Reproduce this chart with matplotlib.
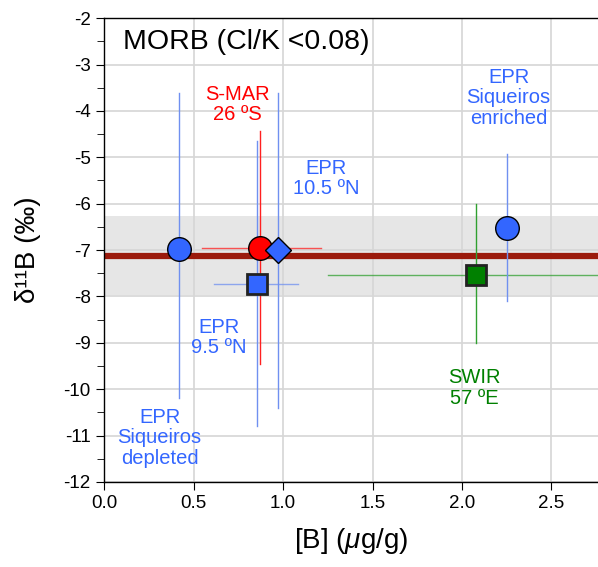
import matplotlib
matplotlib.use("Agg")
import matplotlib.pyplot as plt
from matplotlib.ticker import MultipleLocator

plt.rcParams['font.family'] = ['Liberation Sans', 'DejaVu Sans']
plt.rcParams['mathtext.fontset'] = 'custom'
plt.rcParams['mathtext.rm'] = 'Liberation Sans'
plt.rcParams['mathtext.it'] = 'Liberation Sans:italic'

names = ["EPR Siqueiros depleted", "S-MAR 26S", "EPR 10.5N", "EPR 9.5N", "SWIR 57E", "EPR Siqueiros enriched"]
B = [0.42, 0.87, 0.97, 0.855, 2.08, 2.25]
d11B = [-6.98, -6.95, -7.0, -7.73, -7.53, -6.53]
x_lo = [None, 0.55, None, 0.615, 1.25, None]
x_hi = [None, 1.21, None, 1.085, 3.0, None]
y_lo = [-10.2, -9.45, -10.4, -10.8, -9.0, -8.1]
y_hi = [-3.62, -4.44, -3.62, -4.65, -6.0, -4.92]
markers = ['o', 'o', 'D', 's', 's', 'o']
colors = ['#3366ff', '#ff0000', '#3366ff', '#3366ff', '#008000', '#3366ff']
errcolors = ['#7090f0', '#ff2020', '#7090f0', '#7090f0', '#30a030', '#7090f0']
sizes = [17, 17, 13, 14, 14, 17]

mean_d11B = -7.12
band_lo, band_hi = -7.98, -6.27

labels = ["EPR\nSiqueiros\ndepleted", "S-MAR\n26 ºS", "EPR\n10.5 ºN", "EPR\n9.5 ºN", "SWIR\n57 ºE", "EPR\nSiqueiros\nenriched"]
label_x = [0.31, 0.744, 1.24, 0.64, 2.07, 2.26]
label_y = [-11.05, -3.86, -5.46, -8.89, -9.97, -3.72]

fig = plt.figure(figsize=(5.98, 5.67), dpi=100)
ax = fig.add_axes([0.174, 0.150, 0.826, 0.818])
ax.set_xlim(0, 2.76)
ax.set_ylim(-12, -2)

ax.xaxis.set_major_locator(MultipleLocator(0.5))
ax.yaxis.set_major_locator(MultipleLocator(1))
ax.yaxis.set_minor_locator(MultipleLocator(0.5))
ax.grid(True, which='major', color='#d6d6d6', lw=1.2, zorder=0)
ax.set_axisbelow(True)

ax.axhspan(band_lo, band_hi, color='#e6e6e6', zorder=0.5, lw=0)
ax.axhline(mean_d11B, color='#9b1a0c', lw=4.5, zorder=2)

for i in range(len(B)):
    ax.plot([B[i], B[i]], [y_lo[i], y_hi[i]], color=errcolors[i], lw=1.0, zorder=3)
    if x_lo[i] is not None:
        ax.plot([x_lo[i], x_hi[i]], [d11B[i], d11B[i]], color=errcolors[i], lw=1.0, zorder=3, alpha=0.75)

order = [0, 1, 3, 2, 4, 5]
for i in order:
    ec = 'black' if markers[i] != 's' else '#222222'
    ew = 1.0 if markers[i] != 's' else 2.0
    ax.plot(B[i], d11B[i], marker=markers[i], ms=sizes[i], color=colors[i],
            mec=ec, mew=ew, ls='none', zorder=5)

for i in range(len(labels)):
    ax.text(label_x[i], label_y[i], labels[i], color=colors[i], fontsize=14.5,
            ha='center', va='center', linespacing=1.1, zorder=6)

ax.text(0.105, -2.52, "MORB (Cl/K <0.08)", fontsize=20.5, ha='left', va='center', zorder=6)

ax.spines['right'].set_visible(False)
for s in ['left', 'bottom', 'top']:
    ax.spines[s].set_linewidth(1.0)

ax.tick_params(axis='both', which='major', direction='out', length=5.5, labelsize=13.5, pad=4)
ax.tick_params(axis='y', which='minor', direction='out', length=5)
ax.set_xticks([0, 0.5, 1.0, 1.5, 2.0, 2.5])
ax.set_xticklabels(['0.0', '0.5', '1.0', '1.5', '2.0', '2.5'])
ax.set_yticks(range(-12, -1))
ax.set_yticklabels([str(v) for v in range(-12, -1)])

ax.set_xlabel("[B] ($\\mathit{\\mu}$g/g)", fontsize=20, labelpad=10)
ax.set_ylabel("δ¹¹B (‰)", fontsize=20, labelpad=16)

fig.savefig("out.png", dpi=100)
